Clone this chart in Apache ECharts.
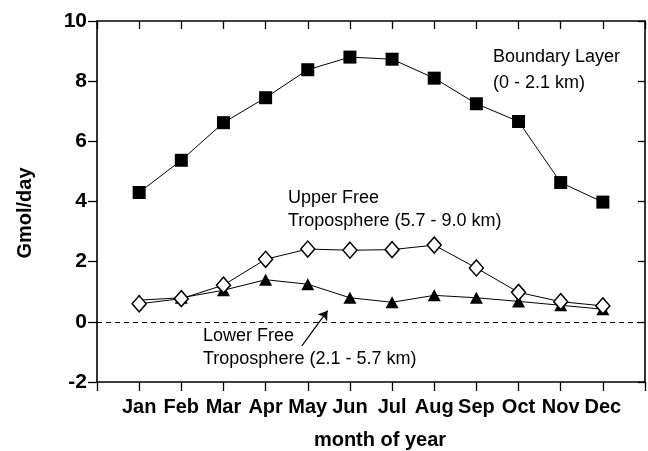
<!DOCTYPE html>
<html>
<head>
<meta charset="utf-8">
<script src="https://cdn.jsdelivr.net/npm/echarts@6/dist/echarts.min.js"></script>
<style>
  html, body { margin: 0; padding: 0; background: #fff; }
  #chart { width: 648px; height: 451px; }
</style>
</head>
<body>
<div id="chart"></div>
<script>
// months sit at x = 1..12 on a 0..13 value axis
const months = ['Jan', 'Feb', 'Mar', 'Apr', 'May', 'Jun', 'Jul', 'Aug', 'Sep', 'Oct', 'Nov', 'Dec'];
const boundaryLayer = [4.3, 5.37, 6.62, 7.45, 8.38, 8.8, 8.73, 8.1, 7.25, 6.66, 4.63, 3.98];
const upperFree = [0.6, 0.77, 1.22, 2.08, 2.42, 2.38, 2.4, 2.55, 1.79, 0.98, 0.67, 0.53];
const lowerFree = [0.72, 0.8, 1.05, 1.4, 1.25, 0.8, 0.65, 0.88, 0.8, 0.68, 0.55, 0.42];
const yTicks = [-2, 0, 2, 4, 6, 8, 10];
const arrowFrom = [4.86, -0.8];
const arrowTo = [5.47, 0.37];

const FONT = '"Liberation Sans", Arial, sans-serif';

function pairs(vals) {
  return vals.map((v, i) => [i + 1, v]);
}

const chart = echarts.init(document.getElementById('chart'), null, { renderer: 'canvas' });

const axisLine = { show: true, onZero: false, lineStyle: { color: '#000', width: 1.6 } };

function label(text, x, y, weight) {
  return {
    type: 'text', x: x, y: y, z: 10,
    style: { text: text, fill: '#000', font: (weight || '') + ' 18px ' + FONT, verticalAlign: 'middle' }
  };
}

const option = {
  backgroundColor: '#fff',
  animation: false,
  grid: { left: 97, right: 2, top: 21, bottom: 69 },
  xAxis: [{
    type: 'value',
    position: 'bottom',
    min: 0, max: 13, interval: 1,
    axisLine: axisLine,
    axisTick: { show: true, inside: false, length: 9, lineStyle: { color: '#000', width: 1.3 } },
    splitLine: { show: false },
    axisLabel: {
      margin: 15,
      color: '#000',
      fontFamily: FONT, fontWeight: 'bold', fontSize: 20,
      formatter: v => (v >= 1 && v <= 12) ? months[v - 1] : ''
    }
  }, {
    type: 'value',
    position: 'top',
    min: 0, max: 13, interval: 1,
    axisLine: axisLine,
    axisTick: { show: true, inside: true, length: 8, lineStyle: { color: '#000', width: 1.3 } },
    splitLine: { show: false },
    axisLabel: { show: false }
  }],
  yAxis: [{
    type: 'value',
    position: 'left',
    min: yTicks[0], max: yTicks[yTicks.length - 1], interval: 2,
    axisLine: axisLine,
    axisTick: { show: true, inside: false, length: 9, lineStyle: { color: '#000', width: 1.3 } },
    splitLine: { show: false },
    axisLabel: {
      margin: 10,
      color: '#000',
      fontFamily: FONT, fontWeight: 'bold', fontSize: 21
    }
  }, {
    type: 'value',
    position: 'right',
    min: yTicks[0], max: yTicks[yTicks.length - 1], interval: 2,
    axisLine: axisLine,
    axisTick: { show: true, inside: true, length: 7, lineStyle: { color: '#000', width: 1.3 } },
    splitLine: { show: false },
    axisLabel: { show: false }
  }],
  series: [{
    name: 'Lower Free Troposphere',
    type: 'line',
    data: pairs(lowerFree),
    symbol: 'triangle',
    symbolSize: [13, 12],
    itemStyle: { color: '#000', borderColor: '#000', borderWidth: 0 },
    lineStyle: { color: '#000', width: 1 },
    markLine: {
      silent: true,
      symbol: ['none', 'arrow'],
      symbolSize: 9,
      label: { show: false },
      lineStyle: { color: '#000', width: 1.2, type: 'solid' },
      data: [[{ coord: arrowFrom }, { coord: arrowTo }]]
    },
    z: 3
  }, {
    name: 'Upper Free Troposphere',
    type: 'line',
    data: pairs(upperFree),
    symbol: 'diamond',
    symbolSize: [14, 16],
    itemStyle: { color: '#fff', borderColor: '#000', borderWidth: 1.5 },
    lineStyle: { color: '#000', width: 1 },
    markLine: {
      silent: true,
      symbol: ['none', 'none'],
      label: { show: false },
      lineStyle: { color: '#000', width: 1, type: [5, 4] },
      data: [{ yAxis: 0 }]
    },
    z: 4
  }, {
    name: 'Boundary Layer',
    type: 'line',
    data: pairs(boundaryLayer),
    symbol: 'rect',
    symbolSize: 13,
    itemStyle: { color: '#000' },
    lineStyle: { color: '#000', width: 1 },
    z: 5
  }],
  graphic: [
    label('Boundary Layer', 493, 57),
    label('(0 - 2.1 km)', 493, 83),
    label('Upper Free', 288, 198),
    label('Troposphere (5.7 - 9.0 km)', 288, 221),
    label('Lower Free', 203, 336),
    label('Troposphere (2.1 - 5.7 km)', 203, 359),
    { type: 'text', x: 380, y: 440, style: { text: 'month of year', fill: '#000', font: 'bold 20px ' + FONT, align: 'center', verticalAlign: 'middle' } },
    { type: 'text', x: 25, y: 213, rotation: Math.PI / 2, style: { text: 'Gmol/day', fill: '#000', font: 'bold 20px ' + FONT, align: 'center', verticalAlign: 'middle' } }
  ]
};

chart.setOption(option);
</script>
</body>
</html>
